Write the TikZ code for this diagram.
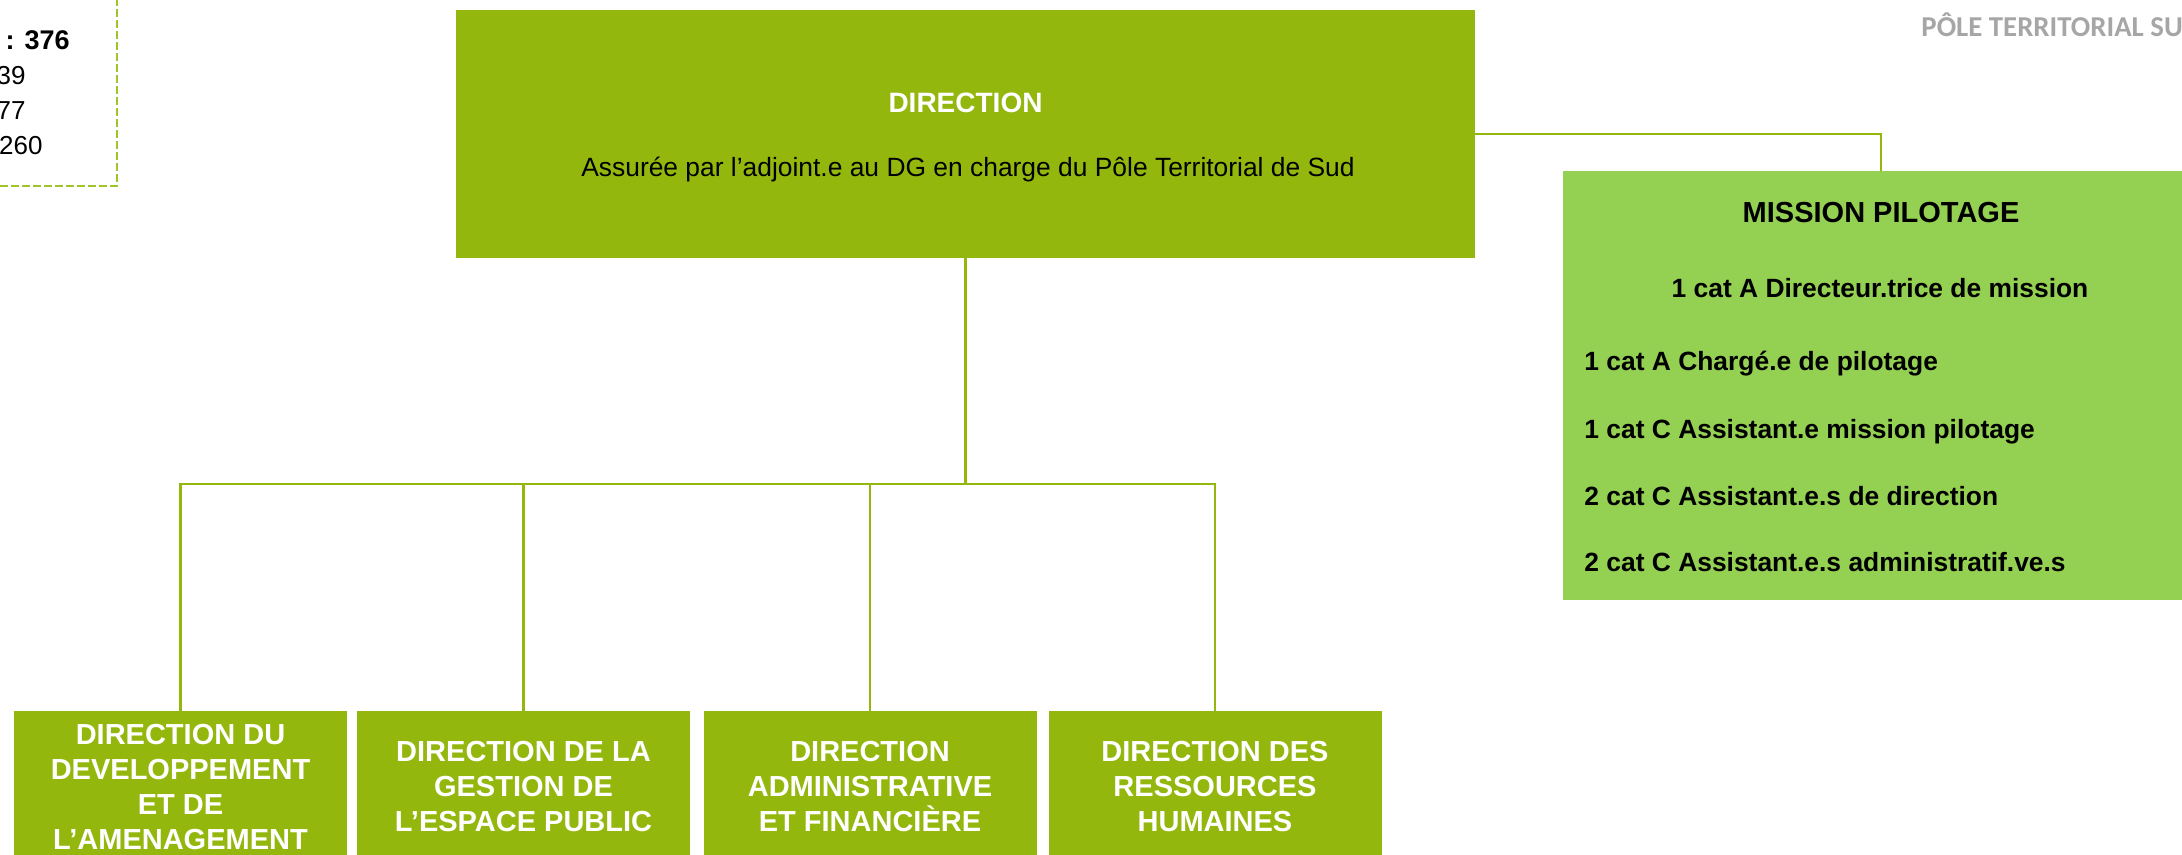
\documentclass[tikz,border=0pt]{standalone}
\usepackage{fontspec}
\setmainfont{Liberation Sans}
\newfontfamily\calibrifont{Carlito}
\definecolor{dirgreen}{RGB}{148,183,14}
\definecolor{misgreen}{RGB}{148,208,82}
\definecolor{dashgreen}{RGB}{158,198,40}
\definecolor{polegray}{RGB}{166,166,166}
\begin{document}
\begin{tikzpicture}[x=0.5pt,y=-0.5pt,
  boxbase/.style={rectangle, inner sep=0pt, outer sep=0pt, draw=none},
  dirbox/.style={boxbase, fill=dirgreen, minimum width=509.5pt, minimum height=124pt},
  misbox/.style={boxbase, fill=misgreen, minimum width=309.5pt, minimum height=214.5pt},
  subbox/.style={boxbase, fill=dirgreen, minimum width=166.5pt, minimum height=72pt},
  subtext/.style={inner sep=0pt, anchor=north, align=center, text=white,
    font=\bfseries\fontsize{14.5}{17.5}\selectfont},
  mistext/.style={inner sep=0pt, font=\bfseries\fontsize{13.2}{15}\selectfont},
  conn/.style={draw=dirgreen, line width=1.2pt},
  dashline/.style={draw=dashgreen, line width=0.9pt, dash pattern=on 4pt off 1.5pt},
  plain/.style={inner sep=0pt}
]
\useasboundingbox (0,0) rectangle (2182,855);

% left summary box (partly outside the page)
\draw[dashline] (0,186) -- (117,186) -- (117,0);
\node[plain, anchor=base east, font=\bfseries\fontsize{13.5}{15}\selectfont] (tot) at (70,50) {: 376};
\node[plain, anchor=base east, font=\fontsize{13}{15}\selectfont] (cata) at (26,85) {39};
\node[plain, anchor=base east, font=\fontsize{13}{15}\selectfont] (catb) at (26,120) {77};
\node[plain, anchor=base east, font=\fontsize{13}{15}\selectfont] (catc) at (43,155) {260};

% header
\node[plain, anchor=base west, text=polegray, font=\calibrifont\bfseries\fontsize{14.4}{16}\selectfont] (pole) at (1921,37) {PÔLE TERRITORIAL SU};

% direction
\node[dirbox] (dir) at (965.5,134) {};
\node[plain, anchor=base, text=white, font=\bfseries\fontsize{14}{16}\selectfont] (dirtitle) at (965.5,113) {DIRECTION};
\node[plain, anchor=base, font=\fontsize{13.2}{15}\selectfont] (dirsub) at (968,177) {Assurée par l’adjoint.e au DG en charge du Pôle Territorial de Sud};

% mission pilotage
\node[misbox] (mis) at (1872.5,385.5) {};
\coordinate (mistop) at (1881,171);
\node[plain, anchor=base, font=\bfseries\fontsize{14.5}{16}\selectfont] (mistitle) at (1881,223) {MISSION PILOTAGE};
\node[mistext, anchor=base] (m1) at (1880,298) {1 cat A Directeur.trice de mission};
\node[mistext, anchor=base west] (m2) at (1584,371) {1 cat A Chargé.e de pilotage};
\node[mistext, anchor=base west] (m3) at (1584,438) {1 cat C Assistant.e mission pilotage};
\node[mistext, anchor=base west] (m4) at (1584,505) {2 cat C Assistant.e.s de direction};
\node[mistext, anchor=base west] (m5) at (1584,571) {2 cat C Assistant.e.s administratif.ve.s};

% sub-directions
\node[subbox] (b1) at (180.5,783) {};
\node[subbox] (b2) at (523.5,783) {};
\node[subbox] (b3) at (870,783) {};
\node[subbox] (b4) at (1215,783) {};
\node[subtext] (b1t) at (180.5,724) {DIRECTION DU\\DEVELOPPEMENT\\ET DE\\L’AMENAGEMENT};
\node[subtext] (b2t) at (523.5,741) {DIRECTION DE LA\\GESTION DE\\L’ESPACE PUBLIC};
\node[subtext] (b3t) at (870,741) {DIRECTION\\ADMINISTRATIVE\\ET FINANCIÈRE};
\node[subtext] (b4t) at (1215,741) {DIRECTION DES\\RESSOURCES\\HUMAINES};

% connectors
\coordinate (bus) at (965.5,484);
\draw[conn] (dir.east) -| (mistop);
\draw[conn] (dir.south) -- (bus);
\draw[conn] (b1.north) |- (bus);
\draw[conn] (b2.north) |- (bus);
\draw[conn] (b3.north) |- (bus);
\draw[conn] (b4.north) |- (bus);
\end{tikzpicture}
\end{document}
